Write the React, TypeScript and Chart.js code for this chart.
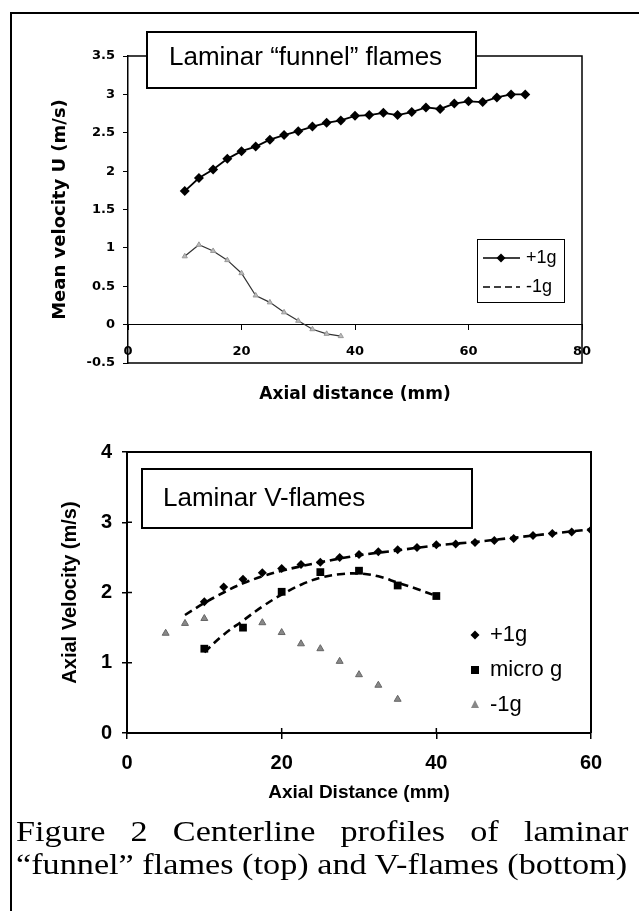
import React, { useEffect, useRef } from 'react';
import { Chart, registerables } from 'chart.js';
Chart.register(...registerables);

// ---------- DATA: top chart (Laminar "funnel" flames) ----------
const topXPlus = [10, 12.5, 15, 17.5, 20, 22.5, 25, 27.5, 30, 32.5, 35, 37.5, 40, 42.5, 45, 47.5, 50, 52.5, 55, 57.5, 60, 62.5, 65, 67.5, 70];
const topYPlus = [1.74, 1.91, 2.02, 2.16, 2.26, 2.32, 2.41, 2.47, 2.52, 2.58, 2.63, 2.66, 2.72, 2.73, 2.76, 2.73, 2.77, 2.83, 2.81, 2.88, 2.91, 2.90, 2.96, 3.0, 3.0];
const topXMinus = [10, 12.5, 15, 17.5, 20, 22.5, 25, 27.5, 30, 32.5, 35, 37.5];
const topYMinus = [0.89, 1.04, 0.96, 0.84, 0.67, 0.38, 0.29, 0.16, 0.05, -0.06, -0.12, -0.15];
const topXTicks = { min: 0, max: 80, step: 20 };
const topYTicks = { min: -0.5, max: 3.5, step: 0.5 };

// ---------- DATA: bottom chart (Laminar V-flames) ----------
const botXPlus = [10, 12.5, 15, 17.5, 20, 22.5, 25, 27.5, 30, 32.5, 35, 37.5, 40, 42.5, 45, 47.5, 50, 52.5, 55, 57.5, 60];
const botYPlus = [1.87, 2.08, 2.19, 2.28, 2.34, 2.40, 2.43, 2.50, 2.54, 2.58, 2.61, 2.64, 2.68, 2.69, 2.71, 2.74, 2.77, 2.81, 2.84, 2.86, 2.89];
const botXMicro = [10, 15, 20, 25, 30, 35, 40];
const botYMicro = [1.20, 1.50, 2.01, 2.29, 2.31, 2.10, 1.95];
const botXMinus = [5, 7.5, 10, 17.5, 20, 22.5, 25, 27.5, 30, 32.5, 35];
const botYMinus = [1.42, 1.56, 1.63, 1.57, 1.43, 1.27, 1.20, 1.02, 0.83, 0.68, 0.48];
// dashed trend curves
const trendPlusX = [7.5, 10, 12.5, 15, 17.5, 20, 25, 30, 35, 40, 45, 50, 55, 60];
const trendPlusY = [1.68, 1.85, 2.0, 2.13, 2.23, 2.31, 2.43, 2.53, 2.6, 2.67, 2.72, 2.78, 2.84, 2.9];
const trendMicroX = [10, 12.5, 15, 17.5, 20, 22.5, 25, 27.5, 30, 32.5, 35, 37.5, 40];
const trendMicroY = [1.15, 1.40, 1.60, 1.80, 1.97, 2.11, 2.21, 2.26, 2.27, 2.23, 2.14, 2.05, 1.95];
const botXTicks = { min: 0, max: 60, step: 20 };
const botYTicks = { min: 0, max: 4, step: 1 };

const FA = '"Liberation Sans", Arial, sans-serif';
const FD = '"DejaVu Sans", "Liberation Sans", sans-serif';

const pts = (xs: number[], ys: number[]) => xs.map((x, i) => ({ x, y: ys[i] }));

function rotText(ctx: CanvasRenderingContext2D, text: string, x: number, y: number, font: string) {
  ctx.save();
  ctx.translate(x, y);
  ctx.rotate(-Math.PI / 2);
  ctx.font = font;
  ctx.textAlign = 'center';
  ctx.textBaseline = 'middle';
  ctx.fillStyle = '#000';
  ctx.fillText(text, 0, 0);
  ctx.restore();
}

function diamond(ctx: CanvasRenderingContext2D, x: number, y: number, r: number) {
  ctx.beginPath();
  ctx.moveTo(x, y - r); ctx.lineTo(x + r, y); ctx.lineTo(x, y + r); ctx.lineTo(x - r, y); ctx.closePath();
  ctx.fill();
}

const decoTop = {
  id: 'decoTop',
  afterDraw(chart: any) {
    const ctx: CanvasRenderingContext2D = chart.ctx;
    const a = chart.chartArea;
    ctx.save();
    ctx.strokeStyle = '#000';
    ctx.lineWidth = 1.5;
    ctx.beginPath();
    ctx.moveTo(a.left, a.top); ctx.lineTo(a.right, a.top); ctx.lineTo(a.right, a.bottom); ctx.lineTo(a.left, a.bottom);
    ctx.stroke();
    // title box
    ctx.fillStyle = '#fff';
    ctx.fillRect(147, 32, 329, 56);
    ctx.lineWidth = 2;
    ctx.strokeRect(147, 32, 329, 56);
    ctx.fillStyle = '#000';
    ctx.font = `26px ${FA}`;
    ctx.textAlign = 'left';
    ctx.textBaseline = 'alphabetic';
    ctx.fillText('Laminar \u201cfunnel\u201d flames', 169, 65);
    // legend box
    ctx.lineWidth = 1;
    ctx.strokeRect(477.5, 239.5, 87, 63);
    ctx.lineWidth = 1.6;
    ctx.beginPath(); ctx.moveTo(483, 258); ctx.lineTo(520, 258); ctx.stroke();
    diamond(ctx, 501, 258, 4.5);
    ctx.setLineDash([7, 4]);
    ctx.beginPath(); ctx.moveTo(483, 287); ctx.lineTo(520, 287); ctx.stroke();
    ctx.setLineDash([]);
    ctx.font = `18px ${FA}`;
    ctx.textBaseline = 'middle';
    ctx.fillText('+1g', 526, 258);
    ctx.fillText('-1g', 526, 287);
    // axis titles
    ctx.font = `bold 17px ${FD}`;
    ctx.textAlign = 'center';
    ctx.fillText('Axial distance (mm)', (a.left + a.right) / 2, 395);
    ctx.restore();
    rotText(ctx, 'Mean velocity U (m/s)', 60, (a.top + a.bottom) / 2, `bold 18px ${FD}`);
  },
};

const decoBot = {
  id: 'decoBot',
  afterDraw(chart: any) {
    const ctx: CanvasRenderingContext2D = chart.ctx;
    const a = chart.chartArea;
    const sx = chart.scales.x;
    const sy = chart.scales.y;
    ctx.save();
    ctx.strokeStyle = '#000';
    ctx.lineWidth = 2;
    ctx.beginPath();
    ctx.moveTo(a.left, a.top); ctx.lineTo(a.right, a.top); ctx.lineTo(a.right, a.bottom);
    ctx.stroke();
    // inward tick marks (ticks cross the axes)
    ctx.lineWidth = 1.5;
    sx.ticks.forEach((t: any) => {
      const px = sx.getPixelForValue(t.value);
      ctx.beginPath(); ctx.moveTo(px, a.bottom); ctx.lineTo(px, a.bottom - 5); ctx.stroke();
    });
    sy.ticks.forEach((t: any) => {
      const py = sy.getPixelForValue(t.value);
      ctx.beginPath(); ctx.moveTo(a.left, py); ctx.lineTo(a.left + 5, py); ctx.stroke();
    });
    // title box
    ctx.fillStyle = '#fff';
    ctx.fillRect(142, 69, 330, 59);
    ctx.lineWidth = 2;
    ctx.strokeRect(142, 69, 330, 59);
    ctx.fillStyle = '#000';
    ctx.font = `26px ${FA}`;
    ctx.textAlign = 'left';
    ctx.textBaseline = 'alphabetic';
    ctx.fillText('Laminar V-flames', 163, 106);
    // legend (no frame)
    ctx.font = `22px ${FA}`;
    ctx.textBaseline = 'middle';
    diamond(ctx, 475, 235, 4.5);
    ctx.fillText('+1g', 490, 235);
    ctx.fillRect(471, 266, 8, 8);
    ctx.fillText('micro g', 490, 270);
    ctx.fillStyle = '#888';
    ctx.beginPath(); ctx.moveTo(475, 300); ctx.lineTo(479, 308); ctx.lineTo(471, 308); ctx.closePath(); ctx.fill();
    ctx.fillStyle = '#000';
    ctx.fillText('-1g', 490, 305);
    // axis titles
    ctx.font = `bold 19px ${FA}`;
    ctx.textAlign = 'center';
    ctx.fillText('Axial Distance (mm)', (a.left + a.right) / 2, 393);
    ctx.restore();
    rotText(ctx, 'Axial Velocity (m/s)', 70, (a.top + a.bottom) / 2, `bold 20px ${FA}`);
  },
};

export default function App() {
  const ref1 = useRef<HTMLCanvasElement>(null);
  const ref2 = useRef<HTMLCanvasElement>(null);

  useEffect(() => {
    const tickTop = { family: FD, size: 13, weight: 'bold' as const };
    const c1 = new Chart(ref1.current!, {
      type: 'scatter',
      data: {
        datasets: [
          {
            label: '+1g', data: pts(topXPlus, topYPlus), showLine: true,
            borderColor: '#000', borderWidth: 1.8, backgroundColor: '#000',
            pointStyle: 'rectRot', pointRadius: 5, pointBorderWidth: 0,
          },
          {
            label: '-1g', data: pts(topXMinus, topYMinus), showLine: true,
            borderColor: '#333', borderWidth: 1.2, backgroundColor: '#bbb',
            pointBorderColor: '#999', pointBorderWidth: 1,
            pointStyle: 'triangle', pointRadius: 3,
          },
        ],
      },
      options: {
        animation: false, responsive: false, maintainAspectRatio: false, devicePixelRatio: 1,
        layout: { padding: { left: 0, top: 56, right: 57, bottom: 57 } },
        plugins: { legend: { display: false }, tooltip: { enabled: false } },
        scales: {
          x: {
            type: 'linear', axis: 'x', position: { y: 0 } as any,
            min: topXTicks.min, max: topXTicks.max,
            ticks: { stepSize: topXTicks.step, padding: 14, color: '#000', font: tickTop },
            grid: { drawOnChartArea: false, drawTicks: true, tickLength: 5, color: '#000', lineWidth: 1 },
            border: { display: true, color: '#000', width: 1 },
          },
          y: {
            type: 'linear', min: topYTicks.min, max: topYTicks.max,
            ticks: { stepSize: topYTicks.step, padding: 8, color: '#000', font: tickTop, callback: (v: any) => `${+v}` },
            grid: { drawOnChartArea: false, drawTicks: true, tickLength: 5, color: '#000', lineWidth: 1 },
            border: { display: true, color: '#000', width: 1.5 },
            afterFit: (s: any) => { s.width = 128; },
          },
        },
      },
      plugins: [decoTop],
    });

    const tickBot = { family: FA, size: 20, weight: 'bold' as const };
    const c2 = new Chart(ref2.current!, {
      type: 'scatter',
      data: {
        datasets: [
          {
            label: 'trend +1g', data: pts(trendPlusX, trendPlusY), showLine: true,
            borderColor: '#000', borderWidth: 2.6, borderDash: [8, 5], pointRadius: 0, tension: 0.4,
          },
          {
            label: 'trend micro g', data: pts(trendMicroX, trendMicroY), showLine: true,
            borderColor: '#000', borderWidth: 2.6, borderDash: [8, 5], pointRadius: 0, tension: 0.4,
          },
          {
            label: '+1g', data: pts(botXPlus, botYPlus), showLine: false,
            backgroundColor: '#000', borderColor: '#000', pointStyle: 'rectRot', pointRadius: 4.5, pointBorderWidth: 0,
          },
          {
            label: 'micro g', data: pts(botXMicro, botYMicro), showLine: false,
            backgroundColor: '#000', borderColor: '#000', pointStyle: 'rect', pointRadius: 5.5, pointBorderWidth: 0,
          },
          {
            label: '-1g', data: pts(botXMinus, botYMinus), showLine: false,
            backgroundColor: '#888', borderColor: '#666', pointStyle: 'triangle', pointRadius: 4, pointBorderWidth: 1,
          },
        ],
      },
      options: {
        animation: false, responsive: false, maintainAspectRatio: false, devicePixelRatio: 1,
        layout: { padding: { left: 0, top: 52, right: 48, bottom: 27 } },
        plugins: { legend: { display: false }, tooltip: { enabled: false } },
        scales: {
          x: {
            type: 'linear', position: 'bottom', min: botXTicks.min, max: botXTicks.max,
            ticks: { stepSize: botXTicks.step, padding: 12, color: '#000', font: tickBot },
            grid: { drawOnChartArea: false, drawTicks: true, tickLength: 6, color: '#000', lineWidth: 1.5 },
            border: { display: true, color: '#000', width: 2 },
            afterFit: (s: any) => { s.height = 60; },
          },
          y: {
            type: 'linear', min: botYTicks.min, max: botYTicks.max,
            ticks: { stepSize: botYTicks.step, padding: 10, color: '#000', font: tickBot },
            grid: { drawOnChartArea: false, drawTicks: true, tickLength: 5, color: '#000', lineWidth: 1.5 },
            border: { display: true, color: '#000', width: 2 },
            afterFit: (s: any) => { s.width = 127; },
          },
        },
      },
      plugins: [decoBot],
    });

    return () => { c1.destroy(); c2.destroy(); };
  }, []);

  const serif = '"Liberation Serif", "Times New Roman", serif';
  return (
    <div style={{ position: 'absolute', left: 0, top: 0, width: 639, height: 911, overflow: 'hidden', background: '#fff' }}>
      <div style={{ position: 'absolute', left: 10, top: 12, width: 700, height: 950, borderLeft: '2px solid #000', borderTop: '2px solid #000' }} />
      <canvas ref={ref1} width={639} height={420} style={{ position: 'absolute', left: 0, top: 0, width: 639, height: 420 }} />
      <canvas ref={ref2} width={639} height={420} style={{ position: 'absolute', left: 0, top: 400, width: 639, height: 420 }} />
      <div style={{ position: 'absolute', left: 16, top: 815, width: 519, fontFamily: serif, fontSize: 29, lineHeight: '33px', color: '#000', transform: 'scaleX(1.18)', transformOrigin: 'left top' }}>
        <div style={{ textAlign: 'justify', textAlignLast: 'justify', whiteSpace: 'nowrap' }}>Figure 2 Centerline profiles of laminar</div>
        <div style={{ whiteSpace: 'nowrap' }}>{'\u201cfunnel\u201d flames (top) and V-flames (bottom)'}</div>
      </div>
    </div>
  );
}
